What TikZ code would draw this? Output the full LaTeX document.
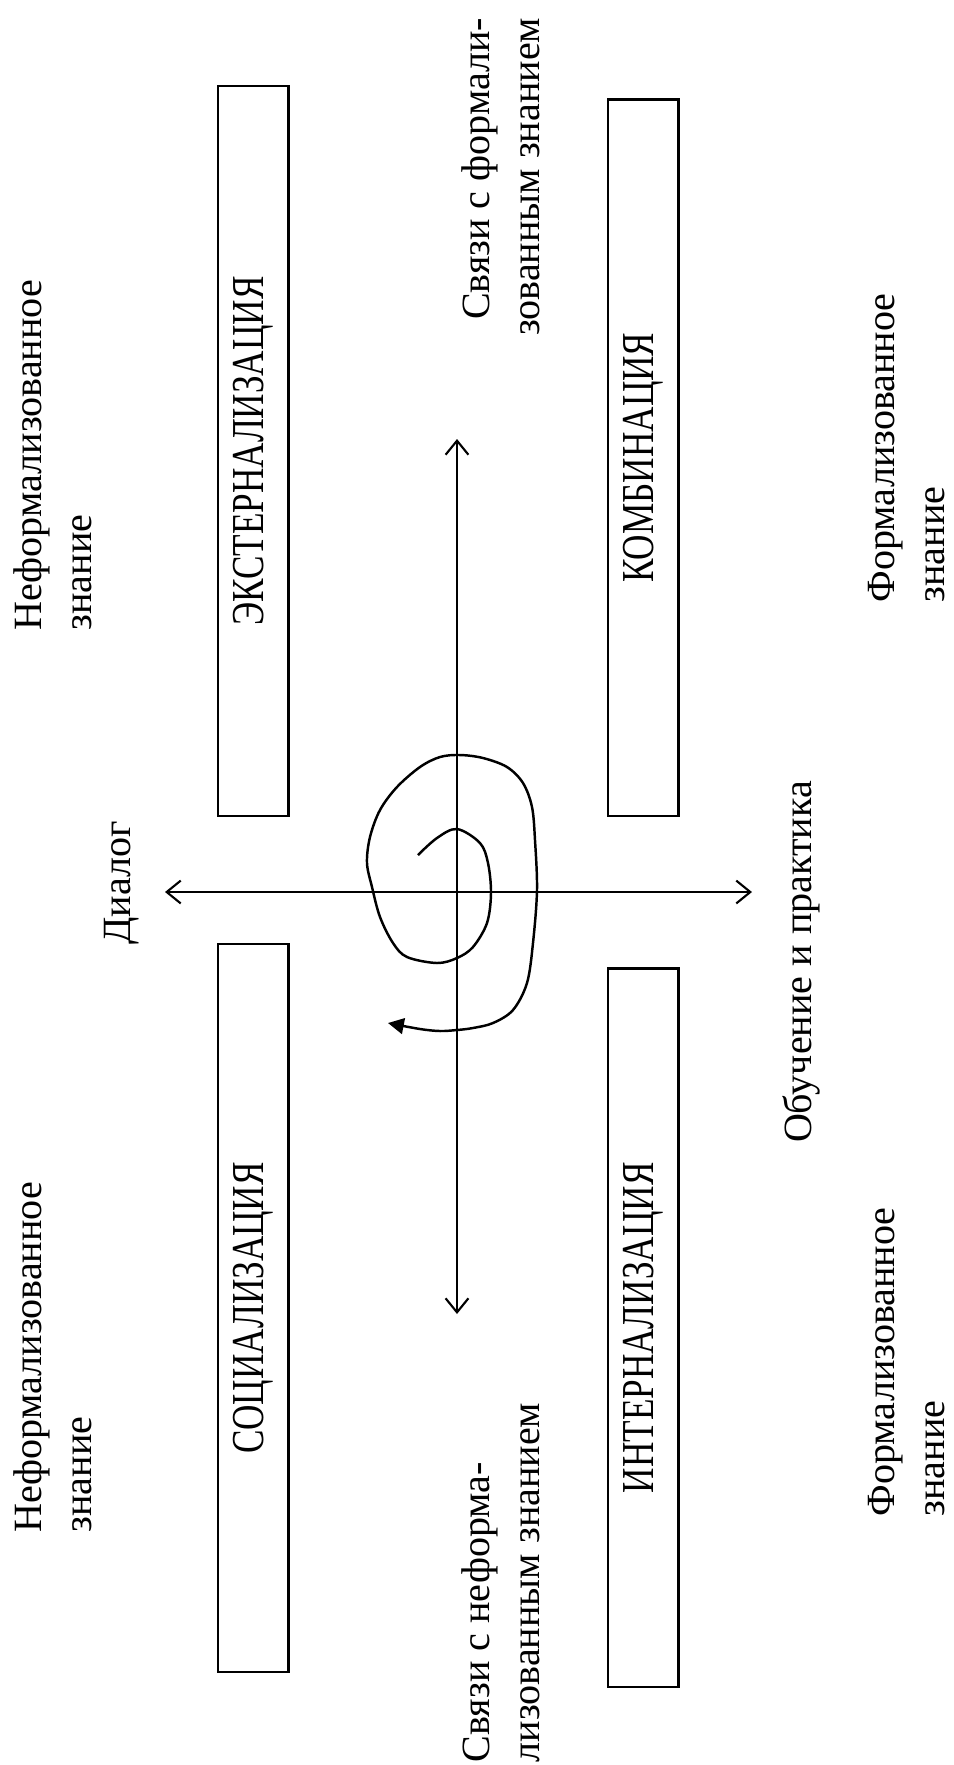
\documentclass[tikz,border=0pt]{standalone}
\usepackage{fontspec}
\setmainfont{Liberation Serif}
\usetikzlibrary{arrows.meta}

\tikzset{
  stage/.style={draw, line width=0.7pt, rotate=90, inner sep=0pt,
    minimum height=0.708cm, font=\fontsize{13}{15}\selectfont},
  caption/.style={rotate=90, inner sep=0pt, font=\fontsize{11.4}{14.2}\selectfont},
  axis/.style={line width=0.6pt, {Straight Barb[length=4pt,width=6.5pt]}-{Straight Barb[length=4pt,width=6.5pt]}}
}

\begin{document}
\begin{tikzpicture}[x=0.01cm, y=-0.01cm]
  \useasboundingbox (0,0) rectangle (953,1765);

  % Four stages
  \node[stage, minimum width=7.30cm] (ext) at (253.3, 451) {\scalebox{0.77}[1]{ЭКСТЕРНАЛИЗАЦИЯ}};
  \node[stage, minimum width=7.16cm] (komb) at (643.3, 457.7) {\scalebox{0.77}[1]{КОМБИНАЦИЯ}};
  \node[stage, minimum width=7.28cm] (soc) at (253.3, 1308) {\scalebox{0.77}[1]{СОЦИАЛИЗАЦИЯ}};
  \node[stage, minimum width=7.18cm] (int) at (643.3, 1327.8) {\scalebox{0.77}[1]{ИНТЕРНАЛИЗАЦИЯ}};

  % Axis ends
  \coordinate (up) at (457, 439);
  \coordinate (down) at (457, 1314);
  \coordinate (left) at (165, 892);
  \coordinate (right) at (752, 892);

  % Axes
  \draw[axis] (up) -- (down);
  \draw[axis] (left) -- (right);

  % Labels
  \node[caption, align=left, anchor=north west] (tl) at (13, 631) {Неформализованное\\знание};
  \node[caption, align=left, anchor=north west] (bl) at (13, 1533) {Неформализованное\\знание};
  \node[caption, align=left, anchor=north west] (tr) at (868, 603) {Формализованное\\знание};
  \node[caption, align=left, anchor=north west] (br) at (868, 1517) {Формализованное\\знание};
  \node[caption, align=right, anchor=north east] (formal) at (461, 17) {Связи с формали-\\зованным знанием};
  \node[caption, align=left, anchor=north west] (informal) at (461, 1763) {Связи с неформа-\\лизованным знанием};
  \node[caption, anchor=north] (dialog) at (104, 883) {Диалог};
  \node[caption, anchor=north] (practice) at (782, 962) {Обучение и практика};

  % Spiral
  \draw[line width=0.7pt, -{Triangle[length=4.5pt,width=4.5pt]}] plot[smooth, tension=0.55] coordinates {
    (418,855) (437,838) (457,829) (480,843) (488,863) (491,893) (487,923)
    (473,947) (457,958) (437,963) (407,957) (393,943) (380,917) (372,887)
    (367,863) (370,837) (380,810) (397,787) (420,767) (440,757) (460,755)
    (483,758) (507,767) (523,783) (532,807) (535,840) (537,890) (533,943)
    (527,983) (513,1010) (493,1023) (473,1028) (457,1030) (440,1031)
    (420,1029) (388,1023)};
\end{tikzpicture}
\end{document}
